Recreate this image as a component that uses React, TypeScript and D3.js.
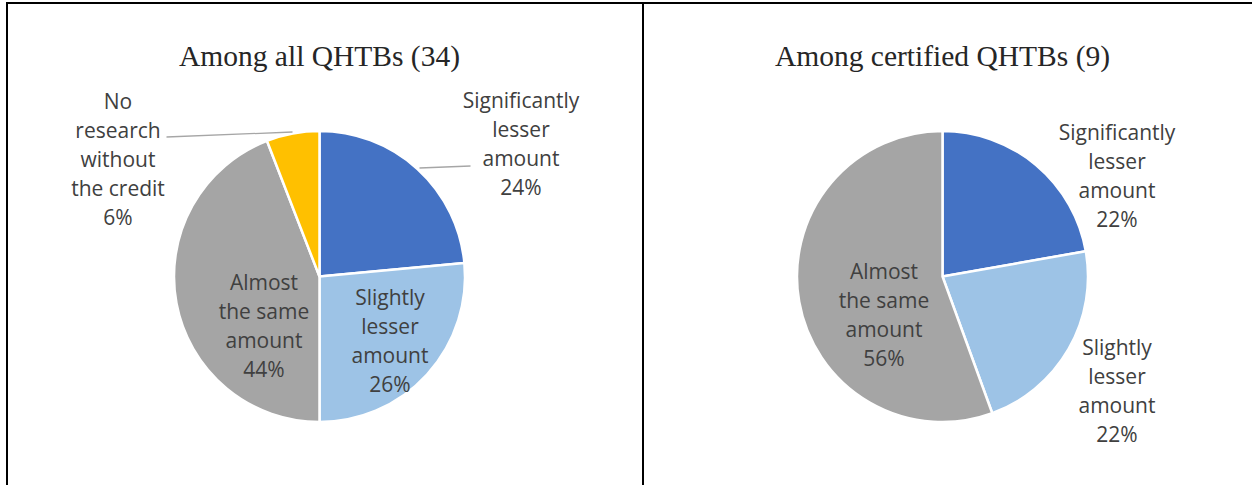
import React from "react";
import * as d3 from "d3";

const categories = [
  "Significantly lesser amount",
  "Slightly lesser amount",
  "Almost the same amount",
  "No research without the credit",
];
const allCounts = [8, 9, 15, 2];
const certifiedCounts = [2, 2, 5];
const titles = ["Among all QHTBs (34)", "Among certified QHTBs (9)"];
const colors = ["#4472C4", "#9DC3E6", "#A5A5A5", "#FFC000"];

// label line breaks (text content)
const labelLines: string[][] = [
  ["Significantly", "lesser", "amount"],
  ["Slightly", "lesser", "amount"],
  ["Almost", "the same", "amount"],
  ["No", "research", "without", "the credit"],
];

// layout: label centre offsets from pie centre, and leader line anchors
const layout1 = [
  { dx: 201.5, dy: -132, leader: [[100, -108.5], [151, -110.5]] },
  { dx: 70.5, dy: 65 },
  { dx: -55.5, dy: 50 },
  { dx: -201.5, dy: -117, leader: [[-27, -144.5], [-153, -139.5]] },
];
const layout2 = [
  { dx: 174.5, dy: -100 },
  { dx: 174.5, dy: 115 },
  { dx: -58.5, dy: 39 },
];

const W = 1252;
const H = 485;
const R = 145.5;
const LINE_H = 29;

function Pie({ cx, counts, title, lay }: { cx: number; counts: number[]; title: string; lay: any[] }) {
  const cy = 276.5;
  const total = d3.sum(counts);
  const pie = d3.pie<number>().sort(null).value((d) => d);
  const arcs = pie(counts);
  const arc = d3.arc<d3.PieArcDatum<number>>().innerRadius(0).outerRadius(R);
  const fmt = (v: number) => `${Math.round((v / total) * 100)}%`;
  return (
    <g>
      <text
        x={cx}
        y={66}
        textAnchor="middle"
        fontFamily="'Liberation Serif', 'Times New Roman', serif"
        fontSize={29.5}
        fill="#262626"
      >
        {title}
      </text>
      <g transform={`translate(${cx},${cy})`}>
        {arcs.map((a, i) => (
          <path key={i} d={arc(a) || ""} fill={colors[i]} stroke="#fff" strokeWidth={2.5} strokeLinejoin="round" />
        ))}
        {arcs.map((a, i) => {
          const L = lay[i];
          const lines = [...labelLines[i], fmt(a.data)];
          const y0 = L.dy - ((lines.length - 1) * LINE_H) / 2;
          return (
            <g key={"l" + i}>
              {L.leader && (
                <line
                  x1={L.leader[0][0]}
                  y1={L.leader[0][1]}
                  x2={L.leader[1][0]}
                  y2={L.leader[1][1]}
                  stroke="#A6A6A6"
                  strokeWidth={1.3}
                />
              )}
              <text
                textAnchor="middle"
                fontFamily="'Open Sans', 'Noto Sans', sans-serif"
                fontSize={21}
                fill="#404040"
              >
                {lines.map((t, k) => (
                  <tspan key={k} x={L.dx} y={y0 + k * LINE_H} dy="0.35em">
                    {t}
                  </tspan>
                ))}
              </text>
            </g>
          );
        })}
      </g>
    </g>
  );
}

export default function App() {
  return (
    <svg
      width={W}
      height={H}
      style={{ position: "absolute", left: 0, top: 0, background: "#fff" }}
    >
      <rect x={0} y={0} width={W} height={H} fill="#fff" />
      <line x1={6} y1={3} x2={W} y2={3} stroke="#000" strokeWidth={2} />
      <line x1={7} y1={2} x2={7} y2={H} stroke="#000" strokeWidth={2} />
      <line x1={643} y1={2} x2={643} y2={H} stroke="#000" strokeWidth={2} />
      <Pie cx={319.5} counts={allCounts} title={titles[0]} lay={layout1} />
      <Pie cx={942.5} counts={certifiedCounts} title={titles[1]} lay={layout2} />
    </svg>
  );
}
